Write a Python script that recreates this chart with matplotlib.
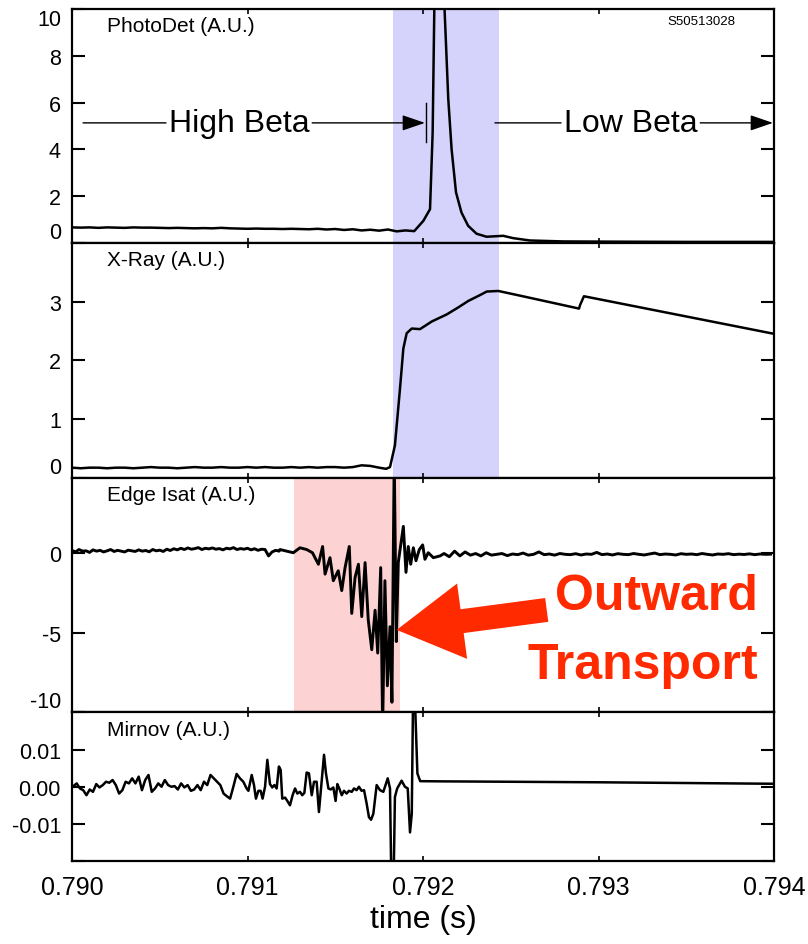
import numpy as np
import matplotlib.pyplot as plt
from matplotlib.patches import FancyArrow
from matplotlib.transforms import IdentityTransform

plt.rcParams['font.family'] = ['Liberation Sans', 'DejaVu Sans']
plt.rcParams['axes.unicode_minus'] = False

# ================================================================
# Shot S50513028 signals
# ================================================================

SHOT = 'S50513028'
T_RANGE = (0.790, 0.794)
T_TICKS = [0.790, 0.791, 0.792, 0.793, 0.794]

# beta collapse window (blue) and edge burst window (red)
BETA_DROP = (0.791827, 0.792433)
ISAT_BURST = (0.791265, 0.791869)

# --- PhotoDet: quiet baseline sampled every 50 us, then the flash
photo_base_t0, photo_base_dt = 0.790, 0.00005
photo_base = [0.66, 0.65, 0.66, 0.64, 0.66, 0.65, 0.64, 0.66, 0.65, 0.65,
              0.64, 0.63, 0.64, 0.63, 0.62, 0.63, 0.62, 0.64, 0.62, 0.61,
              0.60, 0.61, 0.60, 0.60, 0.59, 0.60, 0.59, 0.58, 0.60, 0.57,
              0.59, 0.55, 0.58, 0.53, 0.56, 0.52, 0.57, 0.49, 0.53, 0.50]
photo_t = [0.792002, 0.792040, 0.792055, 0.792068, 0.792100, 0.792120,
           0.792144, 0.792163, 0.792188, 0.792219, 0.792257, 0.792305,
           0.792362, 0.792410, 0.792457, 0.792514, 0.792609, 0.792799,
           0.793083, 0.793500, 0.794000]
photo_v = [0.94, 1.44, 4.72, 12.0, 13.0, 10.5,
           6.15, 4.0, 2.16, 1.30, 0.73, 0.39,
           0.26, 0.28, 0.30, 0.20, 0.10, 0.06,
           0.05, 0.04, 0.04]

# --- X-Ray
xray_base_t0, xray_base_dt = 0.790, 0.00005
xray_base = [0.17, 0.16, 0.17, 0.17, 0.16, 0.17, 0.17, 0.16, 0.17, 0.18,
             0.17, 0.17, 0.16, 0.17, 0.18, 0.17, 0.17, 0.18, 0.17, 0.17,
             0.18, 0.17, 0.18, 0.17, 0.17, 0.18, 0.17, 0.18, 0.17, 0.18,
             0.18, 0.17, 0.18, 0.21, 0.20, 0.17]
xray_t = [0.791790, 0.791812, 0.791840, 0.791869, 0.791888, 0.791907,
          0.791936, 0.791983, 0.792050, 0.792135, 0.792201, 0.792258,
          0.792325, 0.792363, 0.792429, 0.792553, 0.792889, 0.792895,
          0.792917, 0.794000]
xray_v = [0.15, 0.18, 0.55, 1.52, 2.20, 2.46,
          2.54, 2.53, 2.66, 2.78, 2.90, 3.01,
          3.11, 3.17, 3.18, 3.10, 2.88, 2.94,
          3.09, 2.45]

# --- Edge Isat: quiet edge (20 us samples), burst, then quiet again (30 us)
isat_pre_t0, isat_pre_dt = 0.790, 0.00002
isat_pre = [0.15, 0.05, 0.20, 0.10, 0.12, 0.02, 0.18, 0.10, 0.15, 0.05,
            0.12, 0.20, 0.08, 0.15, 0.10, 0.05, 0.16, 0.12, 0.08, 0.18,
            0.10, 0.14, 0.06, 0.20, 0.12, 0.16, 0.08, 0.22, 0.14, 0.25,
            0.18, 0.28, 0.20, 0.30, 0.22, 0.26, 0.32, 0.20, 0.28, 0.24,
            0.30, 0.22, 0.26, 0.18, 0.28, 0.24, 0.32, 0.20, 0.26, 0.22,
            0.28, 0.18, 0.25, 0.15, 0.22, 0.20, -0.20, 0.05, 0.15, 0.10]
isat_t = [0.791185, 0.791261, 0.791299, 0.791337, 0.791370, 0.791404,
          0.791428, 0.791442, 0.791470, 0.791489, 0.791517, 0.791537,
          0.791556, 0.791580, 0.791594, 0.791613, 0.791632, 0.791651,
          0.791670, 0.791688, 0.791708, 0.791727, 0.791742, 0.791759,
          0.791770, 0.791783, 0.791797, 0.791812, 0.791823, 0.791836,
          0.791848, 0.791859, 0.791873, 0.791888, 0.791903, 0.791916,
          0.791930, 0.791945, 0.791960, 0.791979, 0.791998, 0.792011,
          0.792030, 0.792059, 0.792097]
isat_v = [0.20, 0.00, 0.31, 0.20, 0.00, -0.72,
          0.39, -1.34, -0.31, -1.75, -1.13, -2.37,
          -0.93, 0.39, -3.80, -1.54, -0.72, -4.00,
          -0.62, -4.20, -6.07, -3.60, -6.28, -0.93,
          -11.0, -1.75, -8.33, -4.63, -9.36, 6.0,
          -5.56, -0.62, 0.49, 1.65, -1.23, 0.39,
          -0.72, 0.31, -0.50, 0.20, 0.49, -0.41,
          0.00, -0.31, -0.20]
isat_post_t0, isat_post_dt = 0.79212, 0.00003
isat_post = [-0.05, -0.25, 0.10, -0.20, 0.05, -0.15, -0.05, -0.20, 0.00, -0.15,
             -0.10, -0.05, -0.18, -0.08, -0.12, -0.02, -0.15, -0.10, 0.05, -0.12,
             -0.08, -0.15, -0.05, -0.10, -0.12, -0.06, -0.14, -0.08, -0.10, 0.02,
             -0.12, -0.08, -0.14, -0.06, -0.10, -0.12, -0.05, -0.10, -0.14, -0.08,
             -0.02, -0.12, -0.08, -0.10, -0.14, -0.06, -0.10, -0.08, -0.12, -0.05,
             -0.10, -0.14, -0.08, -0.10, -0.06, -0.12, -0.09, -0.11, -0.07, -0.12,
             -0.08, -0.10, -0.09]

# --- Mirnov (values in 1e-3)
mirnov_pre_t0, mirnov_pre_dt = 0.790008, 0.0000186
mirnov_pre = [0.17, 0.90, -0.46, -0.92, -2.28, -0.74, -1.37, 0.72, -0.19, 0.45,
              1.35, 1.08, 1.81, 0.45, -1.83, -0.92, 1.35, 0.90, 2.26, 0.90,
              2.72, -0.92, 1.81, 3.17, -1.37, -0.46, 0.90, 0.00, 1.81, 0.45,
              0.00, 0.17, -0.74, 0.90, -0.19, 0.45, -1.10, -0.74, 0.45, -0.92,
              1.35, 0.45, 3.17, 2.26, 1.35, 0.45, -1.83, -2.56, -3.20, 0.00,
              3.45]
mirnov_t = [0.790957, 0.790976, 0.790995, 0.791005, 0.791024, 0.791037,
            0.791048, 0.791062, 0.791075, 0.791086, 0.791100, 0.791113,
            0.791128, 0.791141, 0.791153, 0.791166, 0.791179, 0.791189,
            0.791198, 0.791214, 0.791227, 0.791242, 0.791257, 0.791271,
            0.791284, 0.791299, 0.791312, 0.791324, 0.791337, 0.791350,
            0.791366, 0.791379, 0.791394, 0.791407, 0.791423, 0.791436,
            0.791447, 0.791461, 0.791474, 0.791489, 0.791502, 0.791512,
            0.791523, 0.791537, 0.791550, 0.791565, 0.791578, 0.791594,
            0.791607, 0.791622, 0.791635, 0.791650, 0.791664, 0.791679,
            0.791692, 0.791704, 0.791717, 0.791736, 0.791755, 0.791774,
            0.791799, 0.791812, 0.791821, 0.791831, 0.791840, 0.791853,
            0.791878, 0.791897, 0.791913, 0.791926, 0.791936, 0.791946,
            0.791968, 0.791984, 0.792100, 0.792500, 0.793000, 0.793500,
            0.794000]
mirnov_v = [2.26, 1.35, -0.46, -1.10, 3.17, 0.45,
            -3.20, -1.10, -1.10, -3.20, 0.00, 7.25,
            0.72, -0.19, 0.45, -0.46, 5.45, 4.54,
            -3.20, -2.92, -3.83, -5.00, -2.28, -0.46,
            -1.83, -1.37, -2.28, -1.65, 3.81, 3.63,
            -2.28, 1.35, 1.35, -6.81, 1.81, 8.60,
            3.63, -0.46, -0.74, -0.19, -3.83, 0.72,
            -0.46, -2.28, -1.10, -1.83, -1.10, -1.37,
            -0.46, -0.92, 0.00, -1.10, -0.92, -4.56,
            -8.20, -8.90, -7.27, 0.45, -0.92, -1.37,
            2.26, -0.46, -30.0, -30.0, -2.74, -0.46,
            1.63, 0.00, -0.46, -12.3, -7.27, 35.0,
            3.60, 1.50, 1.45, 1.35, 1.20, 1.00,
            0.80]


def sampled(t0, dt, values):
    """Time base for a uniformly sampled stretch of a trace"""
    return t0 + dt * np.arange(len(values))


photo_time = np.concatenate([sampled(photo_base_t0, photo_base_dt, photo_base), photo_t])
photo_sig = np.concatenate([photo_base, photo_v])

xray_time = np.concatenate([sampled(xray_base_t0, xray_base_dt, xray_base), xray_t])
xray_sig = np.concatenate([xray_base, xray_v])

isat_time = np.concatenate([sampled(isat_pre_t0, isat_pre_dt, isat_pre), isat_t,
                            sampled(isat_post_t0, isat_post_dt, isat_post)])
isat_sig = np.concatenate([isat_pre, isat_v, isat_post])

mirnov_time = np.concatenate([sampled(mirnov_pre_t0, mirnov_pre_dt, mirnov_pre), mirnov_t])
mirnov_sig = np.concatenate([mirnov_pre, mirnov_v]) * 1e-3


# ================================================================
# Figure
# ================================================================

BLUE_SHADE = '#d5d2fb'
RED_SHADE = '#fdd2d2'
RED = '#ff2a00'

fig = plt.figure(figsize=(8.08, 9.45), dpi=100)
gs = fig.add_gridspec(4, 1, height_ratios=[233, 234, 234, 148],
                      left=72 / 808, right=774 / 808,
                      top=1 - 10 / 945, bottom=1 - 862 / 945, hspace=0)

ax1 = fig.add_subplot(gs[0])
ax2 = fig.add_subplot(gs[1], sharex=ax1)
ax3 = fig.add_subplot(gs[2], sharex=ax1)
ax4 = fig.add_subplot(gs[3], sharex=ax1)
axes = [ax1, ax2, ax3, ax4]

panels = [
    (ax1, photo_time, photo_sig, 'PhotoDet (A.U.)', (0, 10), [0, 2, 4, 6, 8, 10],
     ['0', '2', '4', '6', '8', '10'], 1.8),
    (ax2, xray_time, xray_sig, 'X-Ray (A.U.)', (0, 4), [0, 1, 2, 3, 4],
     ['0', '1', '2', '3', ''], 1.8),
    (ax3, isat_time, isat_sig, 'Edge Isat (A.U.)', (-10, 4.7), [-10, -5, 0],
     ['-10', '-5', '0'], 2.1),
    (ax4, mirnov_time, mirnov_sig, 'Mirnov (A.U.)', (-0.02, 0.02),
     [-0.02, -0.01, 0.0, 0.01, 0.02], ['', '-0.01', '0.00', '0.01', ''], 1.8),
]

for ax, t, sig, name, ylim, yticks, ylabels, lw in panels:
    ax.plot(t, sig, color='black', linewidth=lw, zorder=3)
    ax.set_ylim(*ylim)
    ax.set_yticks(yticks)
    ax.set_yticklabels(ylabels)
    for s in ax.spines.values():
        s.set_linewidth(1.6)
    ax.tick_params(axis='y', direction='in', length=9.5, width=1.5,
                   left=True, right=True, labelsize=15.5, pad=8)
    ax.tick_params(axis='x', direction='in', length=3.5, width=1.2,
                   top=True, bottom=True, labelsize=18, pad=10)
    ax.annotate(name, xy=(0, 1), xycoords='axes fraction',
                xytext=(35, -17), textcoords='offset pixels',
                ha='left', va='center', fontsize=15)

ax1.set_xlim(*T_RANGE)
ax4.set_xticks(T_TICKS)
ax4.set_xticklabels([f'{v:.3f}' for v in T_TICKS])
for ax in axes[:-1]:
    ax.tick_params(labelbottom=False)
ax4.set_xlabel('time (s)', fontsize=23, labelpad=4)

# edge labels kept inside their panel
ax1.yaxis.get_major_ticks()[0].label1.set_va('bottom')
ax1.yaxis.get_major_ticks()[-1].label1.set_va('top')
ax2.yaxis.get_major_ticks()[0].label1.set_va('bottom')
ax3.yaxis.get_major_ticks()[0].label1.set_va('bottom')

# shaded windows
for ax in (ax1, ax2):
    ax.axvspan(*BETA_DROP, color=BLUE_SHADE, linewidth=0, zorder=1)
ax3.axvspan(*ISAT_BURST, color=RED_SHADE, linewidth=0, zorder=1)

# shot number
ax1.text(0.793587, 9.49, SHOT, ha='center', va='center', fontsize=9.5)

# High / Low beta phases
beta_y = 5.13
txt = dict(fontsize=23, ha='center', va='center')
head = dict(arrowstyle='-|>,head_length=0.7,head_width=0.24', color='black',
            linewidth=1.0, mutation_scale=20, shrinkA=0, shrinkB=0)
plain = dict(arrowstyle='-', color='black', linewidth=1.0, shrinkA=0, shrinkB=0)

ax1.annotate('High Beta', xy=(0.790063, beta_y), xytext=(0.790952, beta_y),
             arrowprops=plain, **txt)
ax1.annotate('High Beta', xy=(0.792011, beta_y), xytext=(0.790952, beta_y),
             arrowprops=head, color='none', **txt)
ax1.plot([0.792017, 0.792017], [4.32, 5.98], color='black', linewidth=1.0)

ax1.annotate('Low Beta', xy=(0.792410, beta_y), xytext=(0.793183, beta_y),
             arrowprops=plain, **txt)
ax1.annotate('Low Beta', xy=(0.793994, beta_y), xytext=(0.793183, beta_y),
             arrowprops=head, color='none', **txt)

# outward transport call-out
ax3.text(0.793907, -3.5, 'Outward', color=RED, fontsize=36, fontweight='bold',
         ha='right', va='baseline')
ax3.text(0.793907, -7.82, 'Transport', color=RED, fontsize=36, fontweight='bold',
         ha='right', va='baseline')

tip = ax3.transData.transform((0.791850, -4.83))
tail = ax3.transData.transform((0.792705, -3.58))
arrow = FancyArrow(tail[0], tail[1], tip[0] - tail[0], tip[1] - tail[1],
                   width=24, head_width=76, head_length=66,
                   length_includes_head=True, color=RED, linewidth=0,
                   transform=IdentityTransform(), zorder=5)
fig.add_artist(arrow)

plt.savefig('out.png', dpi=100)
plt.close()
